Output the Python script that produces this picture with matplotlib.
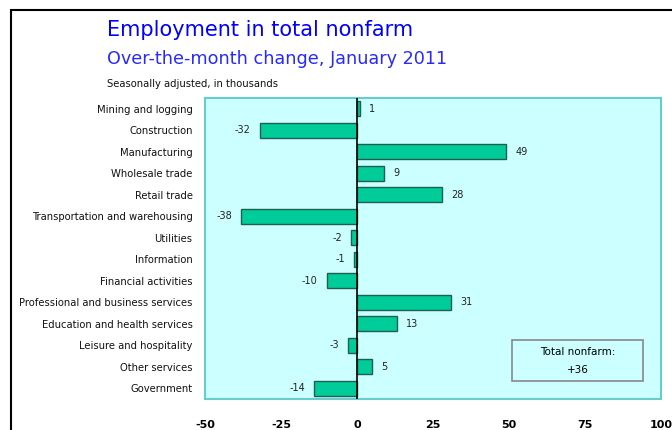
import matplotlib
matplotlib.use('Agg')
import matplotlib.pyplot as plt
from matplotlib.patches import Rectangle

# Over-the-month change by industry, January 2011 (thousands)
industries = [
    'Mining and logging', 'Construction', 'Manufacturing', 'Wholesale trade',
    'Retail trade', 'Transportation and warehousing', 'Utilities',
    'Information', 'Financial activities', 'Professional and business services',
    'Education and health services', 'Leisure and hospitality',
    'Other services', 'Government',
]
changes = [1, -32, 49, 9, 28, -38, -2, -1, -10, 31, 13, -3, 5, -14]
x_ticks = [-50, -25, 0, 25, 50, 75, 100]
total_nonfarm = '+36'

W, H = 672, 430
fig = plt.figure(figsize=(W / 100, H / 100), dpi=100)

# plot area in pixel coordinates (left, top, right, bottom)
l, t, r, b = 205, 98, 661, 399
ax = fig.add_axes([l / W, 1 - b / H, (r - l) / W, (b - t) / H])
ax.set_facecolor('#ccffff')

ypos = list(range(len(industries)))
ax.barh(ypos, changes, height=0.7, color='#00cc99', edgecolor='#1f5f4f', linewidth=1, zorder=3)
ax.axvline(0, color='black', linewidth=1.2, zorder=4)

for y, v in zip(ypos, changes):
    if v >= 0:
        ax.text(v + 3, y, str(v), ha='left', va='center', fontsize=7, color='#222222')
    else:
        ax.text(v - 3, y, str(v), ha='right', va='center', fontsize=7, color='#222222')

ax.set_xlim(-50, 100)
ax.set_ylim(len(industries) - 0.5, -0.5)
ax.set_yticks(ypos)
ax.set_yticklabels(industries, fontsize=7.2, color='#111111')
ax.set_xticks(x_ticks)
ax.set_xticklabels([str(v) for v in x_ticks], fontsize=8, fontweight='bold')
ax.tick_params(axis='both', length=0)
ax.tick_params(axis='y', pad=9)
ax.tick_params(axis='x', pad=15)
for s in ax.spines.values():
    s.set_color('#66cccc')
    s.set_linewidth(1.5)

# total box
ax.add_patch(Rectangle((51, 10.76), 43, 1.9, facecolor='#ccffff', edgecolor='#888888',
                       linewidth=1.2, zorder=5))
ax.text(72.5, 11.3, 'Total nonfarm:', ha='center', va='center', fontsize=7.5, zorder=6)
ax.text(72.5, 12.15, total_nonfarm, ha='center', va='center', fontsize=7.5, zorder=6)

# titles
fig.text(107 / W, 1 - 36 / H, 'Employment in total nonfarm', color='#0000ff', fontsize=15, va='baseline')
fig.text(107 / W, 1 - 64 / H, 'Over-the-month change, January 2011', color='#2a2aff', fontsize=12.7, va='baseline')
fig.text(107 / W, 1 - 87 / H, 'Seasonally adjusted, in thousands', color='#111111', fontsize=7.2, va='baseline')

# outer frame (runs off the right and bottom edges)
fig.patches.append(Rectangle((11 / W, -0.1), 1.2, 1.1 - 10 / H, transform=fig.transFigure,
                             fill=False, edgecolor='black', linewidth=1.5))

fig.savefig('out.png', dpi=100)
